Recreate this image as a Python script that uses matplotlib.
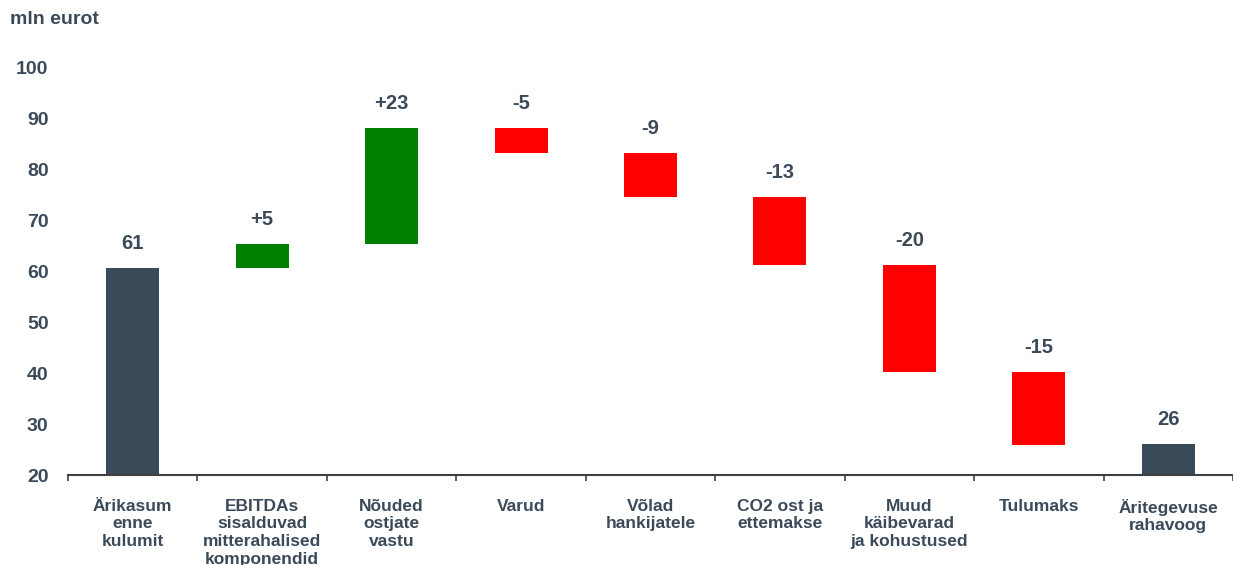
import matplotlib
matplotlib.use("Agg")
import matplotlib.pyplot as plt
import numpy as np

plt.rcParams['font.family'] = ['Liberation Sans', 'DejaVu Sans']

categories = ["Ärikasum\nenne\nkulumit",
              "EBITDAs\nsisalduvad\nmitterahalised\nkomponendid",
              "Nõuded\nostjate\nvastu",
              "Varud",
              "Võlad\nhankijatele",
              "CO2 ost ja\nettemakse",
              "Muud\nkäibevarad\nja kohustused",
              "Tulumaks",
              "Äritegevuse\nrahavoog"]
start_value = 60.7
deltas = [4.7, 22.8, -4.9, -8.7, -13.3, -21.1, -14.4]
end_value = 26.1
value_labels = ["61", "+5", "+23", "-5", "-9", "-13", "-20", "-15", "26"]
yticks = [20, 30, 40, 50, 60, 70, 80, 90, 100]

TEXT = "#3b4a59"
DARK = "#394a59"
GREEN = "#008000"
RED = "#ff0000"

fig = plt.figure(figsize=(12.33, 5.65), dpi=100)
ax = fig.add_axes([68/1233, (565-475)/565, 1 - 68/1233, (475-68)/565])

ymin = 20
bottoms, heights, colors = [], [], []
bottoms.append(ymin); heights.append(start_value - ymin); colors.append(DARK)
level = start_value
for d in deltas:
    lo = min(level, level + d)
    bottoms.append(lo); heights.append(abs(d)); colors.append(GREEN if d > 0 else RED)
    level += d
bottoms.append(ymin); heights.append(end_value - ymin); colors.append(DARK)

x = np.arange(len(categories))
ax.bar(x, heights, bottom=bottoms, width=0.41, color=colors, zorder=2)

for xi, b, h, lab in zip(x, bottoms, heights, value_labels):
    ax.annotate(lab, (xi, b + h), xytext=(0, 11), textcoords="offset points",
                ha="center", va="bottom", fontsize=14.5, fontweight="bold", color=TEXT)

ax.set_xlim(-0.5, len(categories) - 0.5)
ax.set_ylim(20, 100)
ax.set_yticks(yticks)
ax.set_yticklabels([str(v) for v in yticks], fontsize=14, fontweight="bold", color=TEXT)
ax.tick_params(axis="y", length=0, pad=14)

ax.set_xticks(x)
ax.set_xticklabels(categories, fontsize=12.5, fontweight="bold", color=TEXT, linespacing=1.22, va="top")
ax.tick_params(axis="x", which="major", length=0, pad=17)
ax.set_xticks(np.arange(-0.5, len(categories) - 0.4, 1.0), minor=True)
ax.tick_params(axis="x", which="minor", length=4, width=1.2, color="#404040", direction="out")

for s in ["top", "right", "left"]:
    ax.spines[s].set_visible(False)
ax.spines["bottom"].set_color("#404040")
ax.spines["bottom"].set_linewidth(1.5)

fig.text(10/1233, 1 - 20/565, "mln eurot", ha="left", va="center",
         fontsize=14, fontweight="bold", color=TEXT)

fig.savefig("out.png", dpi=100)
